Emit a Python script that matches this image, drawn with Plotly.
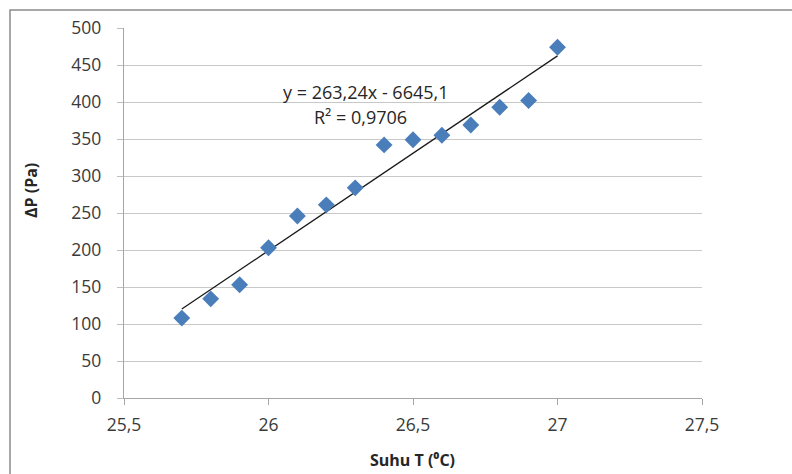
import plotly.graph_objects as go

suhu = [25.7, 25.8, 25.9, 26.0, 26.1, 26.2, 26.3, 26.4, 26.5, 26.6, 26.7, 26.8, 26.9, 27.0]
delta_p = [108, 134, 153, 203, 246, 261, 284, 342, 349, 355, 369, 393, 402, 474]
slope = 263.24
intercept = -6645.1
trend_x = [suhu[0], suhu[-1]]
trend_y = [slope * x + intercept for x in trend_x]

W, H = 792, 474
L, R, T, B = 124, 702, 28, 398

def px(x):
    return (x - L) / (R - L)

def py(y):
    return (B - y) / (B - T)

fig = go.Figure()
fig.add_trace(go.Scatter(x=trend_x, y=trend_y, mode="lines",
                         line=dict(color="#1a1a1a", width=1.3), hoverinfo="skip"))
fig.add_trace(go.Scatter(x=suhu, y=delta_p, mode="markers",
                         marker=dict(symbol="diamond", size=13, color="#4A7EBB",
                                     line=dict(width=0))))

tickfont = dict(family="Open Sans", size=17.5, color="#3a3a3a")
fig.update_layout(
    width=W, height=H,
    margin=dict(l=L, r=W - R, t=T, b=H - B, pad=0),
    paper_bgcolor="white", plot_bgcolor="white",
    showlegend=False,
    separators=", ",
    xaxis=dict(range=[25.5, 27.5], tickvals=[25.5, 26, 26.5, 27, 27.5],
               ticks="outside", ticklen=6, tickcolor="#a6a6a6",
               showline=True, linecolor="#a6a6a6", linewidth=1.3,
               showgrid=False, zeroline=False, tickfont=tickfont,
               ticklabelstandoff=5),
    yaxis=dict(range=[0, 500], tickvals=list(range(0, 501, 50)),
               ticks="outside", ticklen=6, tickcolor="#bfbfbf",
               showline=True, linecolor="#a6a6a6", linewidth=1.3,
               showgrid=True, gridcolor="#c8c8c8", gridwidth=1.3,
               zeroline=False, tickfont=tickfont, ticklabelstandoff=12),
)

fig.add_shape(type="rect", xref="paper", yref="paper",
              x0=px(10), x1=px(820), y0=py(500), y1=py(10),
              line=dict(color="#8c8c8c", width=1.5), fillcolor="rgba(0,0,0,0)",
              layer="below")

annfont = dict(family="Open Sans", size=18, color="#262626")
fig.add_annotation(xref="paper", yref="paper", x=px(365), y=py(92),
                   text="y = 263,24x - 6645,1", showarrow=False, font=annfont,
                   xanchor="center", yanchor="middle")
fig.add_annotation(xref="paper", yref="paper", x=px(360), y=py(117),
                   text="R² = 0,9706", showarrow=False, font=annfont,
                   xanchor="center", yanchor="middle")

titlefont = dict(family="Open Sans", size=16, color="#262626")
fig.add_annotation(xref="paper", yref="paper", x=px(412), y=py(460),
                   text="<b>Suhu T (⁰C)</b>", showarrow=False, font=titlefont,
                   xanchor="center", yanchor="middle")
fig.add_annotation(xref="paper", yref="paper", x=px(31), y=py(191),
                   text="<b>ΔP (Pa)</b>", showarrow=False, font=titlefont,
                   textangle=-90, xanchor="center", yanchor="middle")

fig.write_html("out.html")
